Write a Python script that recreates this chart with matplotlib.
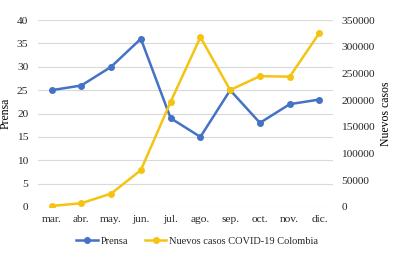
import matplotlib.pyplot as plt

months = ['mar.', 'abr.', 'may.', 'jun.', 'jul.', 'ago.', 'sep.', 'oct.', 'nov.', 'dic.']
prensa = [25, 26, 30, 36, 19, 15, 25, 18, 22, 23]
casos = [2000, 7000, 25000, 69000, 197000, 318000, 219000, 245000, 244000, 326000]

blue = '#4472C4'
yellow = '#F5C412'
plt.rcParams['font.family'] = ['Liberation Serif', 'DejaVu Serif']

fig = plt.figure(figsize=(4.02, 2.61), dpi=100)
ax = fig.add_axes([0.095, 0.207, 0.733, 0.716])
ax2 = ax.twinx()

x = range(len(months))
l1, = ax.plot(x, prensa, color=blue, lw=1.8, marker='o', ms=4, zorder=3)
l2, = ax2.plot(x, casos, color=yellow, lw=1.8, marker='o', ms=4, zorder=3)

ax.set_ylim(0, 40)
ax.set_yticks(range(0, 41, 5))
ax2.set_ylim(0, 350000)
ax2.set_yticks(range(0, 350001, 50000))
ax.set_xlim(-0.45, 9.45)
ax.set_xticks(list(x))
ax.set_xticklabels(months)

ax.grid(axis='y', color='#D9D9D9', lw=0.8)
ax.set_axisbelow(True)
for a in (ax, ax2):
    for s in a.spines.values():
        s.set_visible(False)
    a.tick_params(length=0, labelsize=8.2, colors='#262626')
ax.tick_params(axis='y', pad=7)
ax.tick_params(axis='x', pad=6)
ax2.tick_params(axis='y', pad=6)

ax.set_ylabel('Prensa', fontsize=8.5, labelpad=4)
ax2.set_ylabel('Nuevos casos', fontsize=8.5, rotation=90, labelpad=4)

fig.legend([l1, l2], ['Prensa', 'Nuevos casos COVID-19 Colombia'], loc='center',
           bbox_to_anchor=(0.49, 0.077), ncol=2, frameon=False, fontsize=7.5,
           handlelength=2.1, columnspacing=1.6, handletextpad=0.2,
           labelcolor='#262626')

fig.savefig('out.png', dpi=100)
